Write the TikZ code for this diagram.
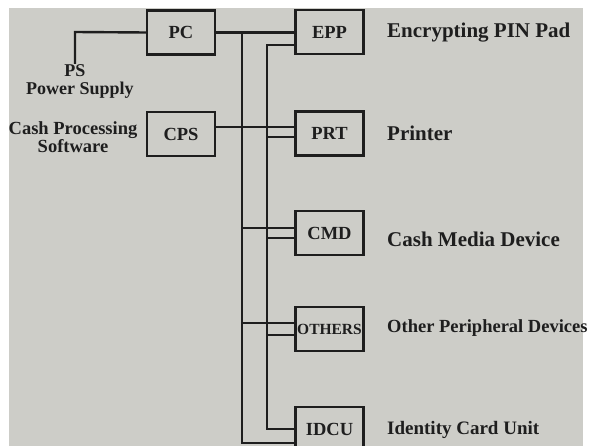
\documentclass[tikz,border=0pt]{standalone}
\usepackage{fontspec}
\setmainfont{Liberation Serif}
\definecolor{bggray}{RGB}{205,205,200}
\definecolor{ink}{RGB}{30,30,30}
\begin{document}
\begin{tikzpicture}[x=1pt,y=-1pt,
  box/.style={draw=ink,line width=2.4pt,minimum width=68pt,minimum height=44pt,inner sep=0pt,font=\bfseries\fontsize{18.5}{18}\selectfont,text=ink},
  wire/.style={draw=ink,line width=2.4pt},
  lbl/.style={anchor=west,inner sep=0pt,font=\bfseries\fontsize{21}{21}\selectfont,text=ink},
  slbl/.style={inner sep=0pt,font=\bfseries\fontsize{18.5}{17}\selectfont,text=ink,align=center}]
\clip (0,0) rectangle (589,446);
\fill[white] (0,0) rectangle (589,446);
\fill[bggray] (9,8) rectangle (583,446);

\node[box] (PC) at (181,32.5) {PC};
\node[box] (CPS) at (181,134) {CPS};
\node[box] (EPP) at (329.5,32) {EPP};
\node[box] (PRT) at (329.5,133.5) {PRT};
\node[box] (CMD) at (329.5,233) {CMD};
\node[box,font=\bfseries\fontsize{15.5}{15}\selectfont] (OTH) at (329.5,329) {OTHERS};
\node[box] (IDCU) at (329.5,429) {IDCU};

\node[slbl,font=\bfseries\fontsize{18}{18}\selectfont] (psl) at (80,81) {PS\hspace*{10pt}\\Power Supply};
\node[slbl,font=\bfseries\fontsize{18.5}{18}\selectfont] (cpsl) at (73,137) {Cash Processing\\Software};

\node[lbl] (l1) at (387,33) {Encrypting PIN Pad};
\node[lbl] (l2) at (387,133) {Printer};
\node[lbl] (l3) at (387,239) {Cash Media Device};
\node[lbl,font=\bfseries\fontsize{18.5}{18.5}\selectfont] (l4) at (387,328) {Other Peripheral Devices};
\node[lbl,font=\bfseries\fontsize{19}{19}\selectfont] (l5) at (387,430) {Identity Card Unit};

% power supply
\coordinate (psc) at (75,32);
\coordinate (pse) at (75,64);
\draw[wire] (PC.west) -- (psc) -- (pse);

% PC to EPP
\draw[wire] (PC.east) -- (PC.east -| EPP.west);
% CPS to PRT
\coordinate (cpsy) at (215,127);
\draw[wire] (cpsy) -- (cpsy -| PRT.west);

% bus 1
\coordinate (b1t) at (242,32.5);
\coordinate (b1b) at (242,443);
\draw[wire] (b1t) -- (b1b) -- (b1b -| IDCU.west);
\coordinate (b1c) at (242,228);
\coordinate (b1o) at (242,323);
\draw[wire] (b1c) -- (b1c -| CMD.west);
\draw[wire] (b1o) -- (b1o -| OTH.west);

% bus 2
\coordinate (b2t) at (267,45);
\coordinate (b2b) at (267,429);
\draw[wire] (b2t -| EPP.west) -- (b2t) -- (b2b) -- (b2b -| IDCU.west);
\coordinate (b2p) at (267,137);
\coordinate (b2c) at (267,238);
\coordinate (b2o) at (267,335);
\draw[wire] (b2p) -- (b2p -| PRT.west);
\draw[wire] (b2c) -- (b2c -| CMD.west);
\draw[wire] (b2o) -- (b2o -| OTH.west);
\end{tikzpicture}
\end{document}
